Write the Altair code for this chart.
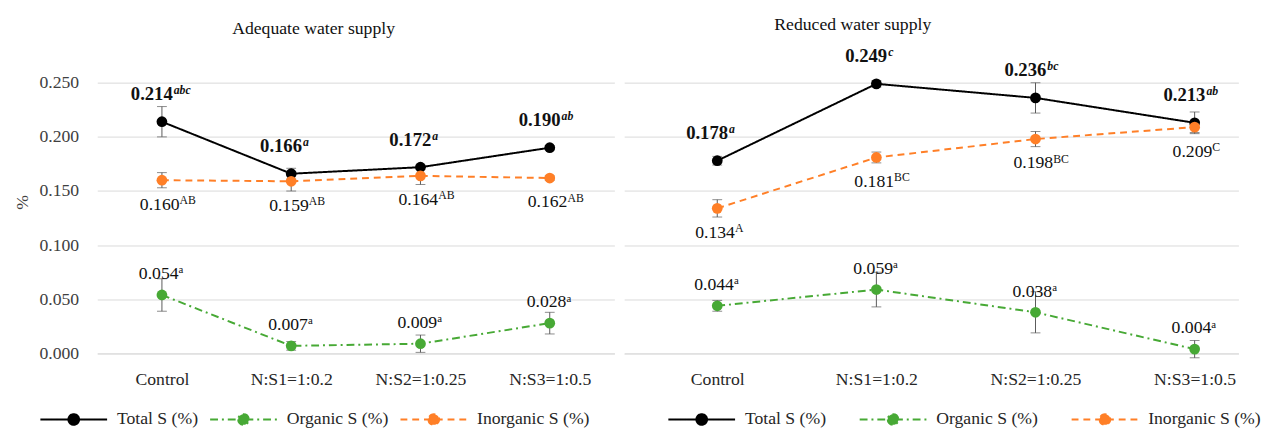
import altair as alt
import pandas as pd

FONT = "Liberation Serif, Times New Roman, DejaVu Serif, serif"

categories = ["Control", "N:S1=1:0.2", "N:S2=1:0.25", "N:S3=1:0.5"]
series_names = ["Total S (%)", "Organic S (%)", "Inorganic S (%)"]
series_colors = ["#000000", "#47a935", "#ff7f27"]
series_dashes = [[1, 0], [8, 4, 2, 4], [7, 5]]
y_ticks = [0.0, 0.05, 0.10, 0.15, 0.20, 0.25]

# Adequate water supply
adequate_total = [0.214, 0.166, 0.172, 0.190]
adequate_total_err = [0.014, 0.005, 0.002, 0.002]
adequate_total_letters = ["abc", "a", "a", "ab"]
adequate_organic = [0.054, 0.007, 0.009, 0.028]
adequate_organic_err = [0.015, 0.004, 0.008, 0.010]
adequate_organic_letters = ["a", "a", "a", "a"]
adequate_inorganic = [0.160, 0.159, 0.164, 0.162]
adequate_inorganic_err = [0.007, 0.009, 0.008, 0.002]
adequate_inorganic_letters = ["AB", "AB", "AB", "AB"]

# Reduced water supply
reduced_total = [0.178, 0.249, 0.236, 0.213]
reduced_total_err = [0.004, 0.003, 0.014, 0.010]
reduced_total_letters = ["a", "c", "bc", "ab"]
reduced_organic = [0.044, 0.059, 0.038, 0.004]
reduced_organic_err = [0.005, 0.016, 0.019, 0.008]
reduced_organic_letters = ["a", "a", "a", "a"]
reduced_inorganic = [0.134, 0.181, 0.198, 0.209]
reduced_inorganic_err = [0.008, 0.005, 0.007, 0.005]
reduced_inorganic_letters = ["A", "BC", "BC", "C"]


def build_df(groups):
    rows = []
    for name, vals, errs, letters in groups:
        for c, v, e, l in zip(categories, vals, errs, letters):
            rows.append({"cat": c, "series": name, "value": v, "lo": v - e, "hi": v + e,
                         "num": f"{v:.3f}", "sup": l})
    return pd.DataFrame(rows)


df_adequate = build_df([
    (series_names[0], adequate_total, adequate_total_err, adequate_total_letters),
    (series_names[1], adequate_organic, adequate_organic_err, adequate_organic_letters),
    (series_names[2], adequate_inorganic, adequate_inorganic_err, adequate_inorganic_letters),
])
df_reduced = build_df([
    (series_names[0], reduced_total, reduced_total_err, reduced_total_letters),
    (series_names[1], reduced_organic, reduced_organic_err, reduced_organic_letters),
    (series_names[2], reduced_inorganic, reduced_inorganic_err, reduced_inorganic_letters),
])

LEGEND_SYMBOL = ("M-1,0L1,0M-0.16,0A0.16,0.16,0,1,0,0.16,0"
                 "A0.16,0.16,0,1,0,-0.16,0Z")


def panel(df, title, show_y, xpad, xalign, legend_x, col_pad, title_dx, width):
    x_scale = alt.Scale(type="point", domain=categories, padding=xpad, align=xalign)
    x_enc = alt.X("cat:N", sort=categories, scale=x_scale,
                  axis=alt.Axis(labelAngle=0, title=None, ticks=False, domain=True,
                                domainColor="#d9d9d9", labelPadding=18, labelFont=FONT,
                                labelFontSize=18, labelColor="#262626", grid=False))
    x_plain = alt.X("cat:N", sort=categories, scale=x_scale)
    if show_y:
        y_axis = alt.Axis(values=y_ticks, format=".3f", grid=True, gridColor="#d9d9d9",
                          domain=False, ticks=False, labelPadding=19, labelFont=FONT,
                          labelFontSize=18, labelColor="#404040", title="%",
                          titleFont=FONT, titleFontSize=18, titleFontWeight="normal",
                          titleColor="#404040", titlePadding=8)
    else:
        y_axis = alt.Axis(values=y_ticks, grid=True, gridColor="#d9d9d9", domain=False,
                          ticks=False, labels=False, title=None)
    y_scale = alt.Scale(domain=[0, 0.28], nice=False, zero=False)
    y_enc = alt.Y("value:Q", scale=y_scale, axis=y_axis)

    legend = alt.Legend(title=None, orient="none", legendX=legend_x, legendY=341,
                        direction="horizontal", symbolType=LEGEND_SYMBOL,
                        symbolSize=4624, symbolStrokeWidth=2, labelFont=FONT,
                        labelFontSize=18, labelColor="#262626", columnPadding=col_pad,
                        labelOffset=9, symbolOpacity=1)
    color = alt.Color("series:N", scale=alt.Scale(domain=series_names, range=series_colors),
                      legend=legend)
    dash = alt.StrokeDash("series:N",
                          scale=alt.Scale(domain=series_names, range=series_dashes),
                          legend=legend)

    base = alt.Chart(df)
    lines = base.mark_line(strokeWidth=2).encode(x=x_enc, y=y_enc, color=color,
                                                 strokeDash=dash)
    bars = base.mark_rule(color="#595959", strokeWidth=1).encode(
        x=x_plain, y=alt.Y("lo:Q", scale=y_scale), y2="hi:Q")
    caps_lo = base.mark_tick(color="#595959", thickness=1, size=10, orient="horizontal").encode(
        x=x_plain, y=alt.Y("lo:Q", scale=y_scale))
    caps_hi = base.mark_tick(color="#595959", thickness=1, size=10, orient="horizontal").encode(
        x=x_plain, y=alt.Y("hi:Q", scale=y_scale))
    points = base.mark_point(filled=True, size=120, opacity=1).encode(
        x=x_plain, y=alt.Y("value:Q", scale=y_scale), color=color)

    def txt(series, field, align, dx, dy, size, weight="normal", style="normal"):
        return base.transform_filter(alt.datum.series == series).mark_text(
            font=FONT, fontSize=size, fontWeight=weight, fontStyle=style, align=align,
            baseline="alphabetic", dx=dx, dy=dy, color="#111111").encode(
            x=x_plain, y=alt.Y("value:Q", scale=y_scale), text=f"{field}:N")

    texts = [
        txt(series_names[0], "num", "right", 11, -22, 19, "bold"),
        txt(series_names[0], "sup", "left", 12, -28, 12, "bold", "italic"),
        txt(series_names[1], "num", "right", 17, -16, 18),
        txt(series_names[1], "sup", "left", 17, -22, 11),
        txt(series_names[2], "num", "right", 18, 30, 18),
        txt(series_names[2], "sup", "left", 18, 24, 12),
    ]
    return alt.layer(lines, bars, caps_lo, caps_hi, points, *texts).properties(
        width=width, height=309,
        title=alt.TitleParams(title, anchor="start", dx=title_dx, offset=13, font=FONT,
                              fontSize=18, fontWeight="normal", color="#111111"),
    ).resolve_scale(color="shared", strokeDash="shared")


left = panel(df_adequate, "Adequate water supply", True, 0.5, 0.5, -59, 8, 223, 527)
right = panel(df_reduced, "Reduced water supply", False, 0.43, 0.68, 44, 30, 153, 626)

chart = alt.hconcat(left, right, spacing=10).resolve_scale(
    color="independent", strokeDash="independent", x="independent", y="independent"
).resolve_legend(color="independent", strokeDash="independent").properties(
    background="white",
    padding={"left": 5, "top": 4, "right": 0, "bottom": 0},
).configure_view(strokeWidth=0, stroke="transparent")

chart.save("out.html", embed_options={"renderer": "svg", "actions": False})
